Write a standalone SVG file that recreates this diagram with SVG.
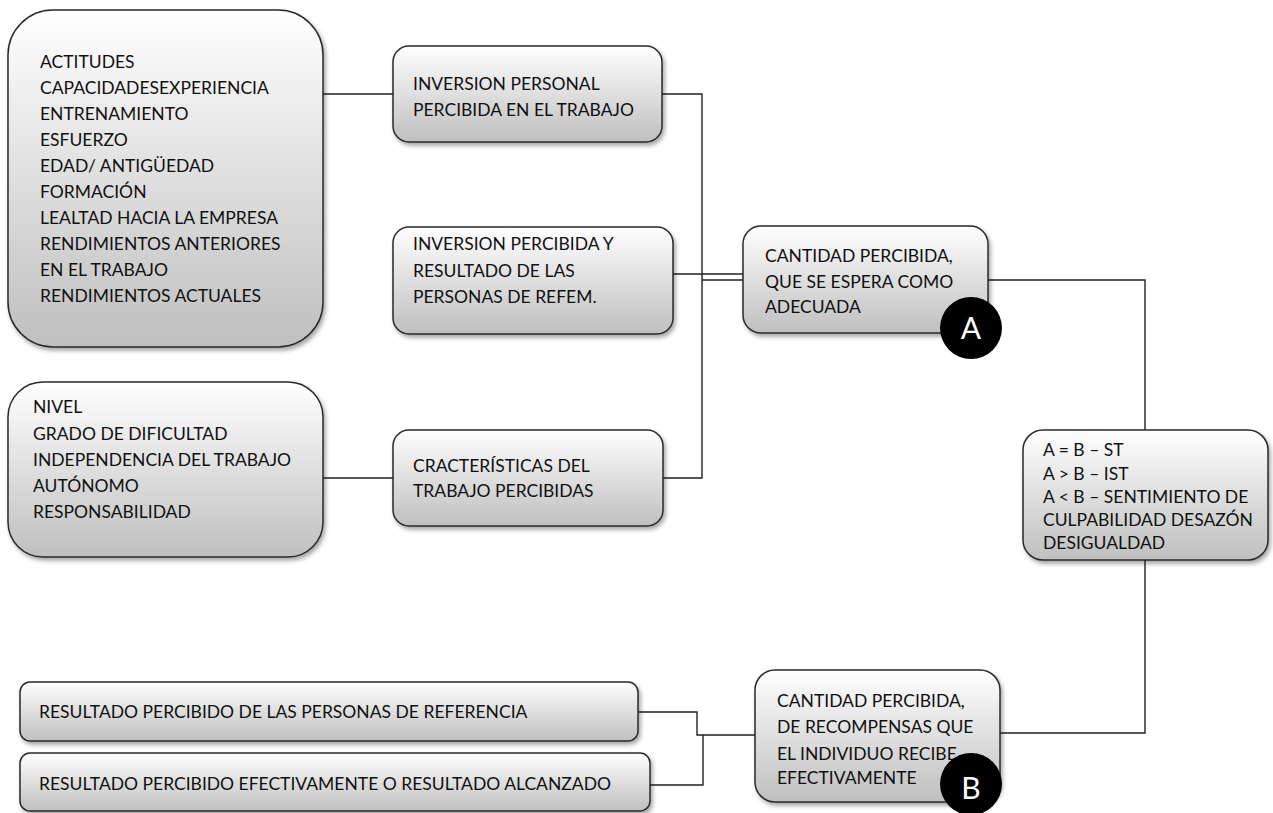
<svg xmlns="http://www.w3.org/2000/svg" width="1273" height="813" viewBox="0 0 1273 813">
<defs>
<linearGradient id="g" x1="0" y1="0" x2="0" y2="1">
<stop offset="0" stop-color="#ffffff"/>
<stop offset="1" stop-color="#bfbfbf"/>
</linearGradient>
<filter id="sh" x="-10%" y="-10%" width="130%" height="130%">
<feDropShadow dx="2" dy="3" stdDeviation="2" flood-color="#000" flood-opacity="0.35"/>
</filter>
</defs>
<style>
.box{fill:url(#g);stroke:#2a2a2a;stroke-width:1.5;filter:url(#sh)}
.t{font-family:Lato,"Open Sans",sans-serif;font-size:17.5px;fill:#111}
.c{fill:none;stroke:#222;stroke-width:1.4}
.circ{fill:#000}
.lt{font-family:Lato,"Open Sans",sans-serif;font-size:30px;fill:#fff;text-anchor:middle}
</style>
<rect width="1273" height="813" fill="#fff"/>
<g id="connectors">
<polyline class="c" points="323,94 393,94"/>
<polyline class="c" points="662,94 702,94 702,478 662,478"/>
<polyline class="c" points="323,478 393,478"/>
<polyline class="c" points="673,274 743,274"/>
<polyline class="c" points="702,280 743,280"/>
<polyline class="c" points="988,280 1145,280 1145,430"/>
<polyline class="c" points="1145,560 1145,733 1000,733"/>
<polyline class="c" points="638,712 697,712 697,735 755,735"/>
<polyline class="c" points="650,785 703,785 703,735"/>
</g>
<g id="n1">
<rect class="box" x="8" y="10" width="315" height="337" rx="45"/>
<text class="t" x="40" y="68">ACTITUDES</text>
<text class="t" x="40" y="94">CAPACIDADESEXPERIENCIA</text>
<text class="t" x="40" y="120">ENTRENAMIENTO</text>
<text class="t" x="40" y="146">ESFUERZO</text>
<text class="t" x="40" y="172">EDAD/ ANTIGÜEDAD</text>
<text class="t" x="40" y="198">FORMACIÓN</text>
<text class="t" x="40" y="224">LEALTAD HACIA LA EMPRESA</text>
<text class="t" x="40" y="250">RENDIMIENTOS ANTERIORES</text>
<text class="t" x="40" y="276">EN EL TRABAJO</text>
<text class="t" x="40" y="302">RENDIMIENTOS ACTUALES</text>
</g>
<g id="n2">
<rect class="box" x="393" y="46" width="269" height="96" rx="16"/>
<text class="t" x="413" y="90">INVERSION PERSONAL</text>
<text class="t" x="413" y="116">PERCIBIDA EN EL TRABAJO</text>
</g>
<g id="n3">
<rect class="box" x="393" y="227" width="280" height="107" rx="16"/>
<text class="t" x="413" y="250">INVERSION PERCIBIDA Y</text>
<text class="t" x="413" y="277">RESULTADO DE LAS</text>
<text class="t" x="413" y="303">PERSONAS DE REFEM.</text>
</g>
<g id="n4">
<rect class="box" x="8" y="382" width="315" height="175" rx="35"/>
<text class="t" x="33" y="413">NIVEL</text>
<text class="t" x="33" y="440">GRADO DE DIFICULTAD</text>
<text class="t" x="33" y="466">INDEPENDENCIA DEL TRABAJO</text>
<text class="t" x="33" y="492">AUTÓNOMO</text>
<text class="t" x="33" y="518">RESPONSABILIDAD</text>
</g>
<g id="n5">
<rect class="box" x="393" y="430" width="270" height="96" rx="16"/>
<text class="t" x="413" y="472">CRACTERÍSTICAS DEL</text>
<text class="t" x="413" y="497">TRABAJO PERCIBIDAS</text>
</g>
<g id="nA">
<rect class="box" x="743" y="226" width="245" height="107" rx="18"/>
<text class="t" x="765" y="262">CANTIDAD PERCIBIDA,</text>
<text class="t" x="765" y="288">QUE SE ESPERA COMO</text>
<text class="t" x="765" y="313">ADECUADA</text>
<circle class="circ" cx="971" cy="328" r="31"/>
<text class="lt" x="971" y="339">A</text>
</g>
<g id="n7">
<rect class="box" x="1023" y="430" width="245" height="130" rx="20"/>
<text class="t" x="1043" y="456">A = B – ST</text>
<text class="t" x="1043" y="480">A &gt; B – IST</text>
<text class="t" x="1043" y="503">A  &lt; B – SENTIMIENTO DE</text>
<text class="t" x="1043" y="526">CULPABILIDAD DESAZÓN</text>
<text class="t" x="1043" y="549">DESIGUALDAD</text>
</g>
<g id="nB">
<rect class="box" x="755" y="670" width="245" height="132" rx="20"/>
<text class="t" x="777" y="707">CANTIDAD PERCIBIDA,</text>
<text class="t" x="777" y="733">DE RECOMPENSAS QUE</text>
<text class="t" x="777" y="760">EL INDIVIDUO RECIBE</text>
<text class="t" x="777" y="784">EFECTIVAMENTE</text>
<circle class="circ" cx="971" cy="784" r="31"/>
<text class="lt" x="971" y="799">B</text>
</g>
<g id="n8">
<rect class="box" x="20" y="682" width="618" height="59" rx="10"/>
<text class="t" x="39" y="718">RESULTADO PERCIBIDO DE LAS PERSONAS DE REFERENCIA</text>
</g>
<g id="n9">
<rect class="box" x="20" y="753" width="630" height="58" rx="10"/>
<text class="t" x="39" y="790">RESULTADO PERCIBIDO EFECTIVAMENTE O RESULTADO ALCANZADO</text>
</g>
</svg>
